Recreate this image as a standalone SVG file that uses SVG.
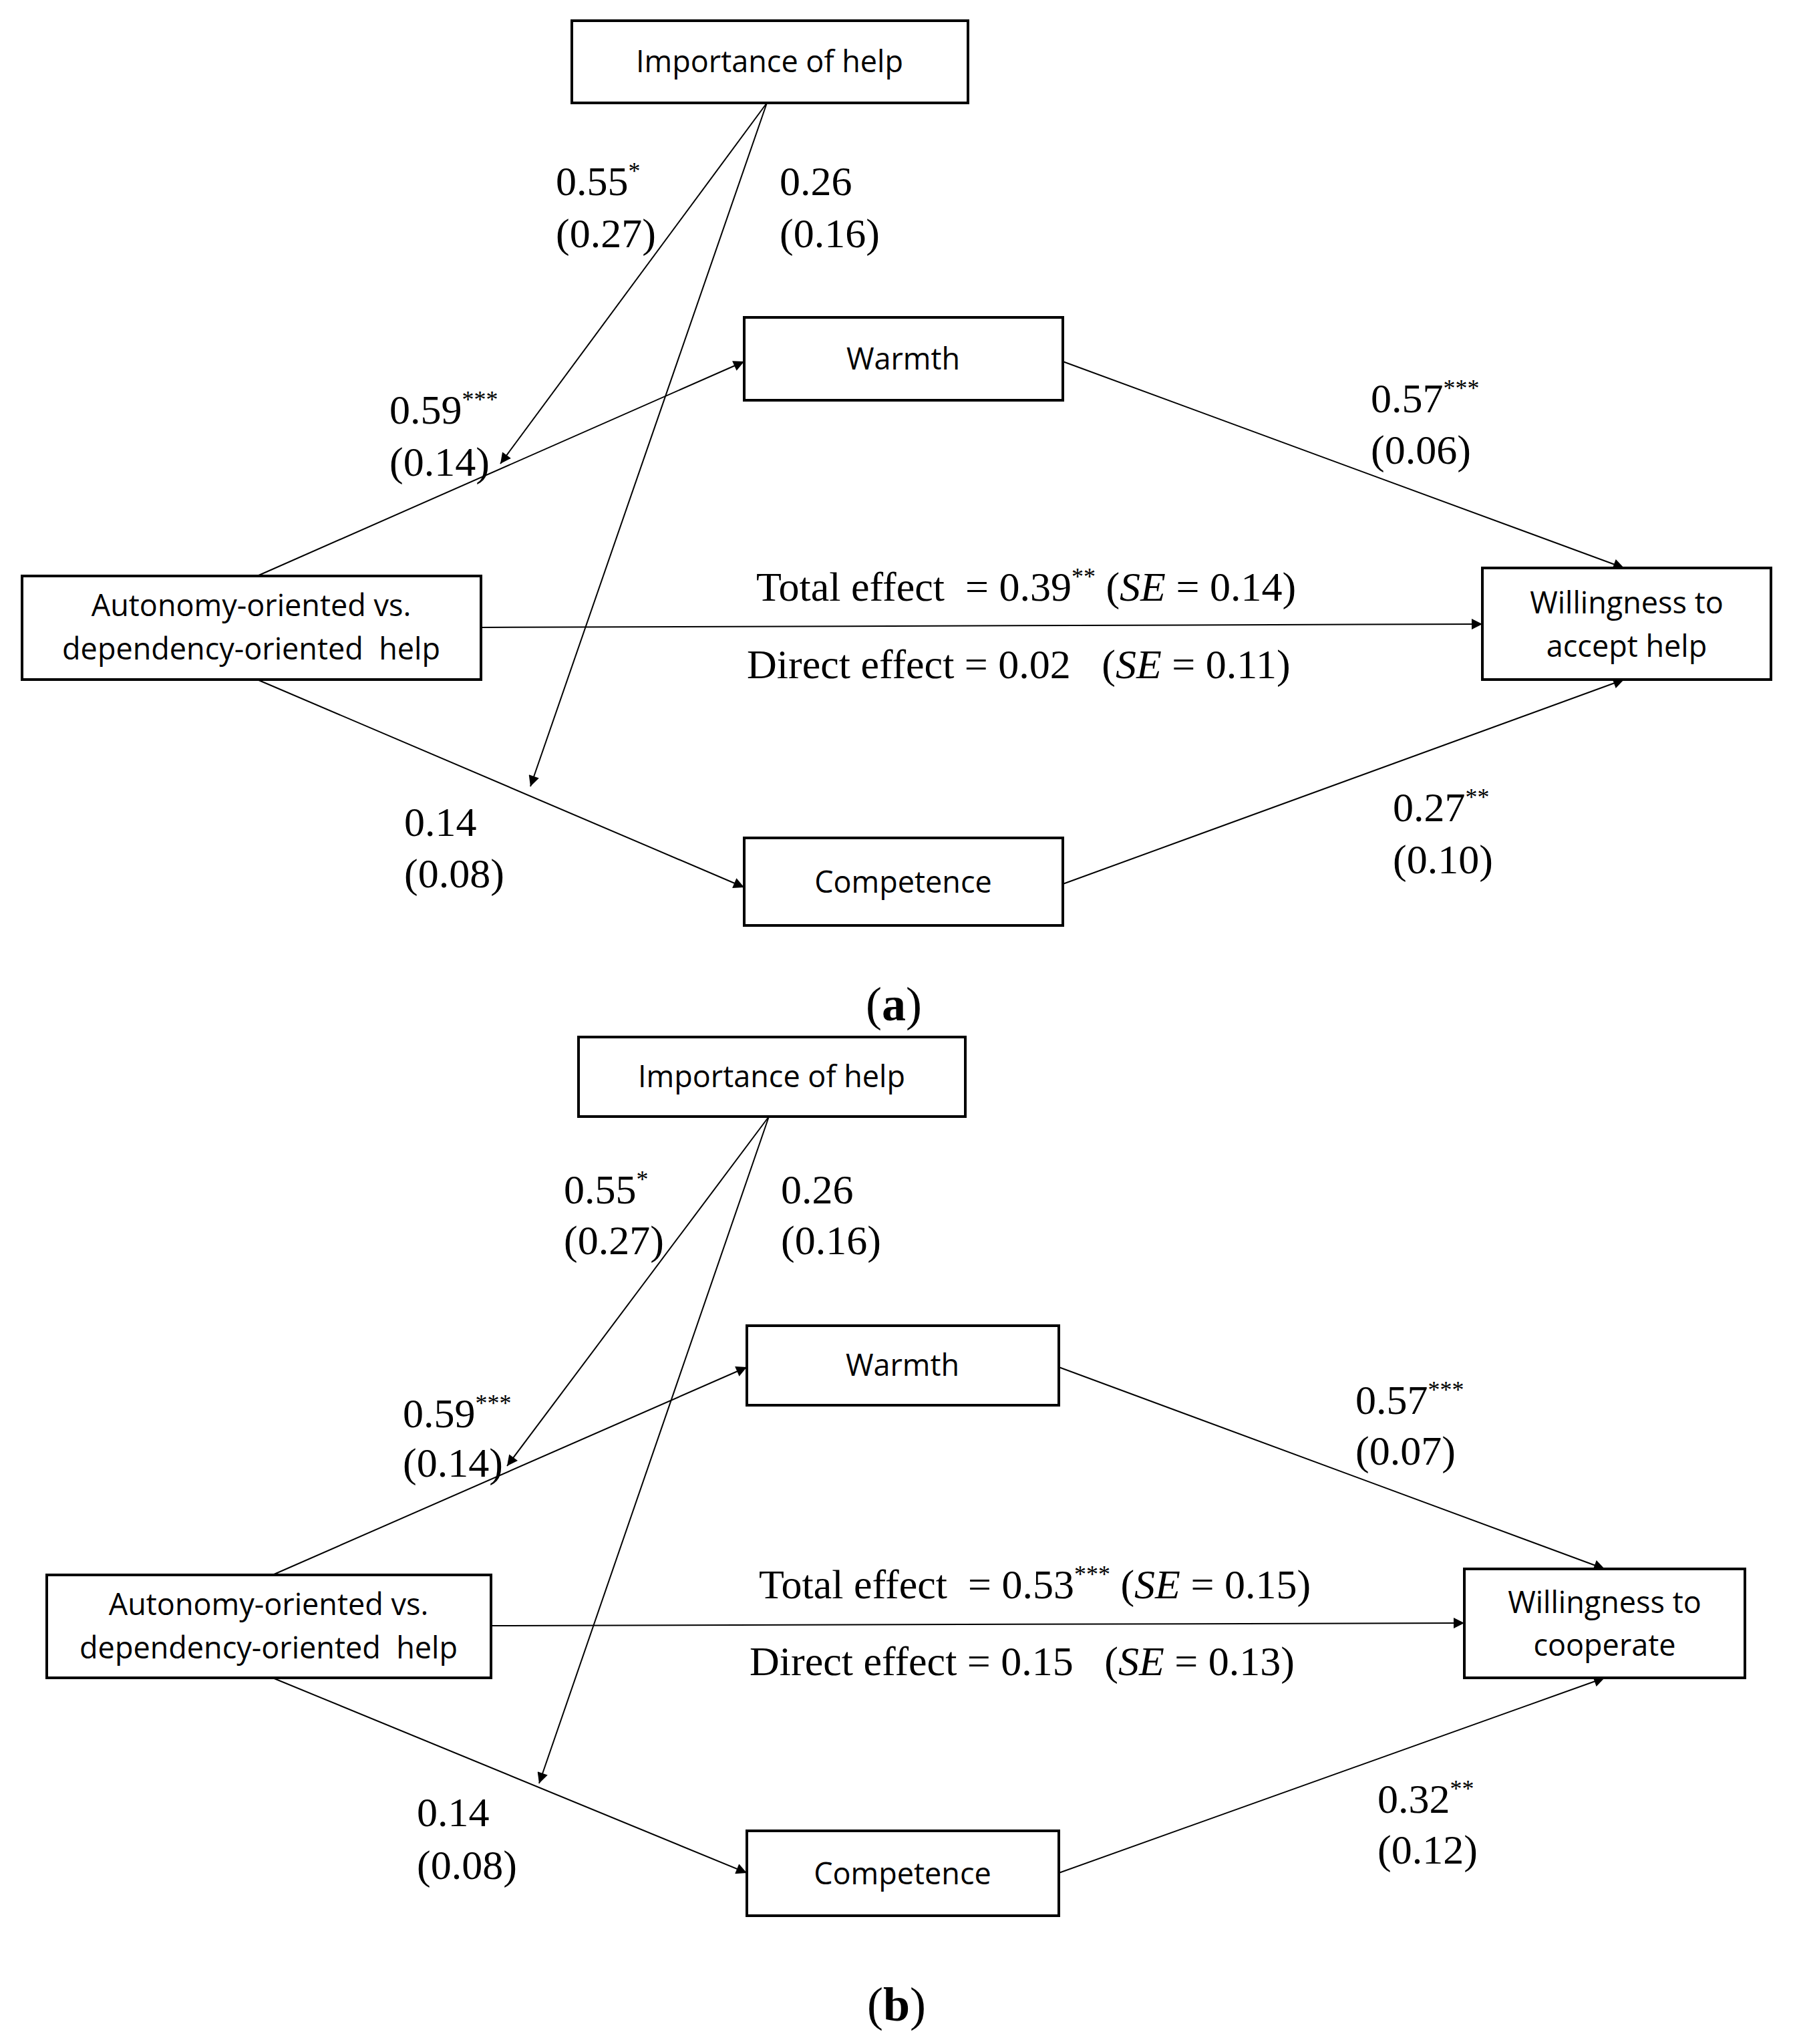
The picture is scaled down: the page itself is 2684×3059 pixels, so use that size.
<svg xmlns="http://www.w3.org/2000/svg" width="2684" height="3059" viewBox="0 0 2684 3059">
<style>
.box{fill:#fff;stroke:#000;stroke-width:4}
.bt{font-family:"Open Sans",sans-serif;font-size:45px;text-anchor:middle}
.n{font-family:"Liberation Serif",serif;font-size:62px}
.c line{stroke:#000;stroke-width:2}
.s{font-size:36px}
.cap{font-size:72px}
</style>
<defs><marker id="ah" viewBox="0 0 10 10" refX="10" refY="5" markerWidth="20" markerHeight="16" markerUnits="userSpaceOnUse" orient="auto"><path d="M0,0L10,5L0,10z"/></marker></defs>
<rect width="2684" height="3059" fill="#fff"/>
<g class="c">
<line x1="1148" y1="154" x2="749" y2="694" marker-end="url(#ah)"/>
<line x1="1148" y1="154" x2="794" y2="1177" marker-end="url(#ah)"/>
<line x1="385" y1="862" x2="1114" y2="541" marker-end="url(#ah)"/>
<line x1="720" y1="939" x2="2219" y2="934" marker-end="url(#ah)"/>
<line x1="385" y1="1017" x2="1114" y2="1328" marker-end="url(#ah)"/>
<line x1="1591" y1="541" x2="2431" y2="850" marker-end="url(#ah)"/>
<line x1="1591" y1="1323" x2="2431" y2="1017" marker-end="url(#ah)"/>
<line x1="1151" y1="1671" x2="759" y2="2194" marker-end="url(#ah)"/>
<line x1="1151" y1="1671" x2="807" y2="2669" marker-end="url(#ah)"/>
<line x1="408" y1="2357" x2="1118" y2="2046" marker-end="url(#ah)"/>
<line x1="735" y1="2433" x2="2192" y2="2429" marker-end="url(#ah)"/>
<line x1="408" y1="2511" x2="1118" y2="2803" marker-end="url(#ah)"/>
<line x1="1585" y1="2046" x2="2402" y2="2348" marker-end="url(#ah)"/>
<line x1="1585" y1="2803" x2="2402" y2="2511" marker-end="url(#ah)"/>
</g>
<g id="imp-a"><rect class="box" x="856" y="31" width="593" height="123"/><text class="bt" x="1152" y="108">Importance of help</text></g>
<g id="warm-a"><rect class="box" x="1114" y="475" width="477" height="124"/><text class="bt" x="1352" y="553">Warmth</text></g>
<g id="auto-a"><rect class="box" x="33" y="862" width="687" height="155"/><text class="bt" x="376" y="922">Autonomy-oriented vs.</text><text class="bt" x="376" y="987" xml:space="preserve">dependency-oriented  help</text></g>
<g id="will-a"><rect class="box" x="2219" y="850" width="432" height="167"/><text class="bt" x="2435" y="918">Willingness to</text><text class="bt" x="2435" y="983">accept help</text></g>
<g id="comp-a"><rect class="box" x="1114" y="1254" width="477" height="131"/><text class="bt" x="1352" y="1336">Competence</text></g>
<g id="imp-b"><rect class="box" x="866" y="1552" width="579" height="119"/><text class="bt" x="1155" y="1627">Importance of help</text></g>
<g id="warm-b"><rect class="box" x="1118" y="1984" width="467" height="119"/><text class="bt" x="1351" y="2059">Warmth</text></g>
<g id="auto-b"><rect class="box" x="70" y="2357" width="665" height="154"/><text class="bt" x="402" y="2417">Autonomy-oriented vs.</text><text class="bt" x="402" y="2482" xml:space="preserve">dependency-oriented  help</text></g>
<g id="will-b"><rect class="box" x="2192" y="2348" width="420" height="163"/><text class="bt" x="2402" y="2414">Willingness to</text><text class="bt" x="2402" y="2478">cooperate</text></g>
<g id="comp-b"><rect class="box" x="1118" y="2740" width="467" height="127"/><text class="bt" x="1351" y="2820">Competence</text></g>
<g id="labels" class="n">
<text x="832" y="292">0.55<tspan class="s" dy="-24">*</tspan></text><text x="832" y="370">(0.27)</text>
<text x="1167" y="292">0.26</text><text x="1167" y="370">(0.16)</text>
<text x="583" y="634">0.59<tspan class="s" dy="-24">***</tspan></text><text x="583" y="712">(0.14)</text>
<text x="2052" y="617">0.57<tspan class="s" dy="-24">***</tspan></text><text x="2052" y="694">(0.06)</text>
<text x="1132" y="899" xml:space="preserve">Total effect  = 0.39<tspan class="s" dy="-24">**</tspan><tspan dy="24"> (</tspan><tspan font-style="italic">SE</tspan> = 0.14)</text>
<text x="1118" y="1015" xml:space="preserve">Direct effect = 0.02   (<tspan font-style="italic">SE</tspan> = 0.11)</text>
<text x="605" y="1251">0.14</text><text x="605" y="1328">(0.08)</text>
<text x="2085" y="1229">0.27<tspan class="s" dy="-24">**</tspan></text><text x="2085" y="1307">(0.10)</text>
<text class="cap" x="1338" y="1527" text-anchor="middle">(<tspan font-weight="bold">a</tspan>)</text>
<text x="844" y="1801">0.55<tspan class="s" dy="-24">*</tspan></text><text x="844" y="1877">(0.27)</text>
<text x="1169" y="1801">0.26</text><text x="1169" y="1877">(0.16)</text>
<text x="603" y="2136">0.59<tspan class="s" dy="-24">***</tspan></text><text x="603" y="2210">(0.14)</text>
<text x="2029" y="2116">0.57<tspan class="s" dy="-24">***</tspan></text><text x="2029" y="2192">(0.07)</text>
<text x="1136" y="2392" xml:space="preserve">Total effect  = 0.53<tspan class="s" dy="-24">***</tspan><tspan dy="24"> (</tspan><tspan font-style="italic">SE</tspan> = 0.15)</text>
<text x="1122" y="2507" xml:space="preserve">Direct effect = 0.15   (<tspan font-style="italic">SE</tspan> = 0.13)</text>
<text x="624" y="2733">0.14</text><text x="624" y="2812">(0.08)</text>
<text x="2062" y="2713">0.32<tspan class="s" dy="-24">**</tspan></text><text x="2062" y="2789">(0.12)</text>
<text class="cap" x="1342" y="3024" text-anchor="middle">(<tspan font-weight="bold">b</tspan>)</text>
</g>
</svg>
